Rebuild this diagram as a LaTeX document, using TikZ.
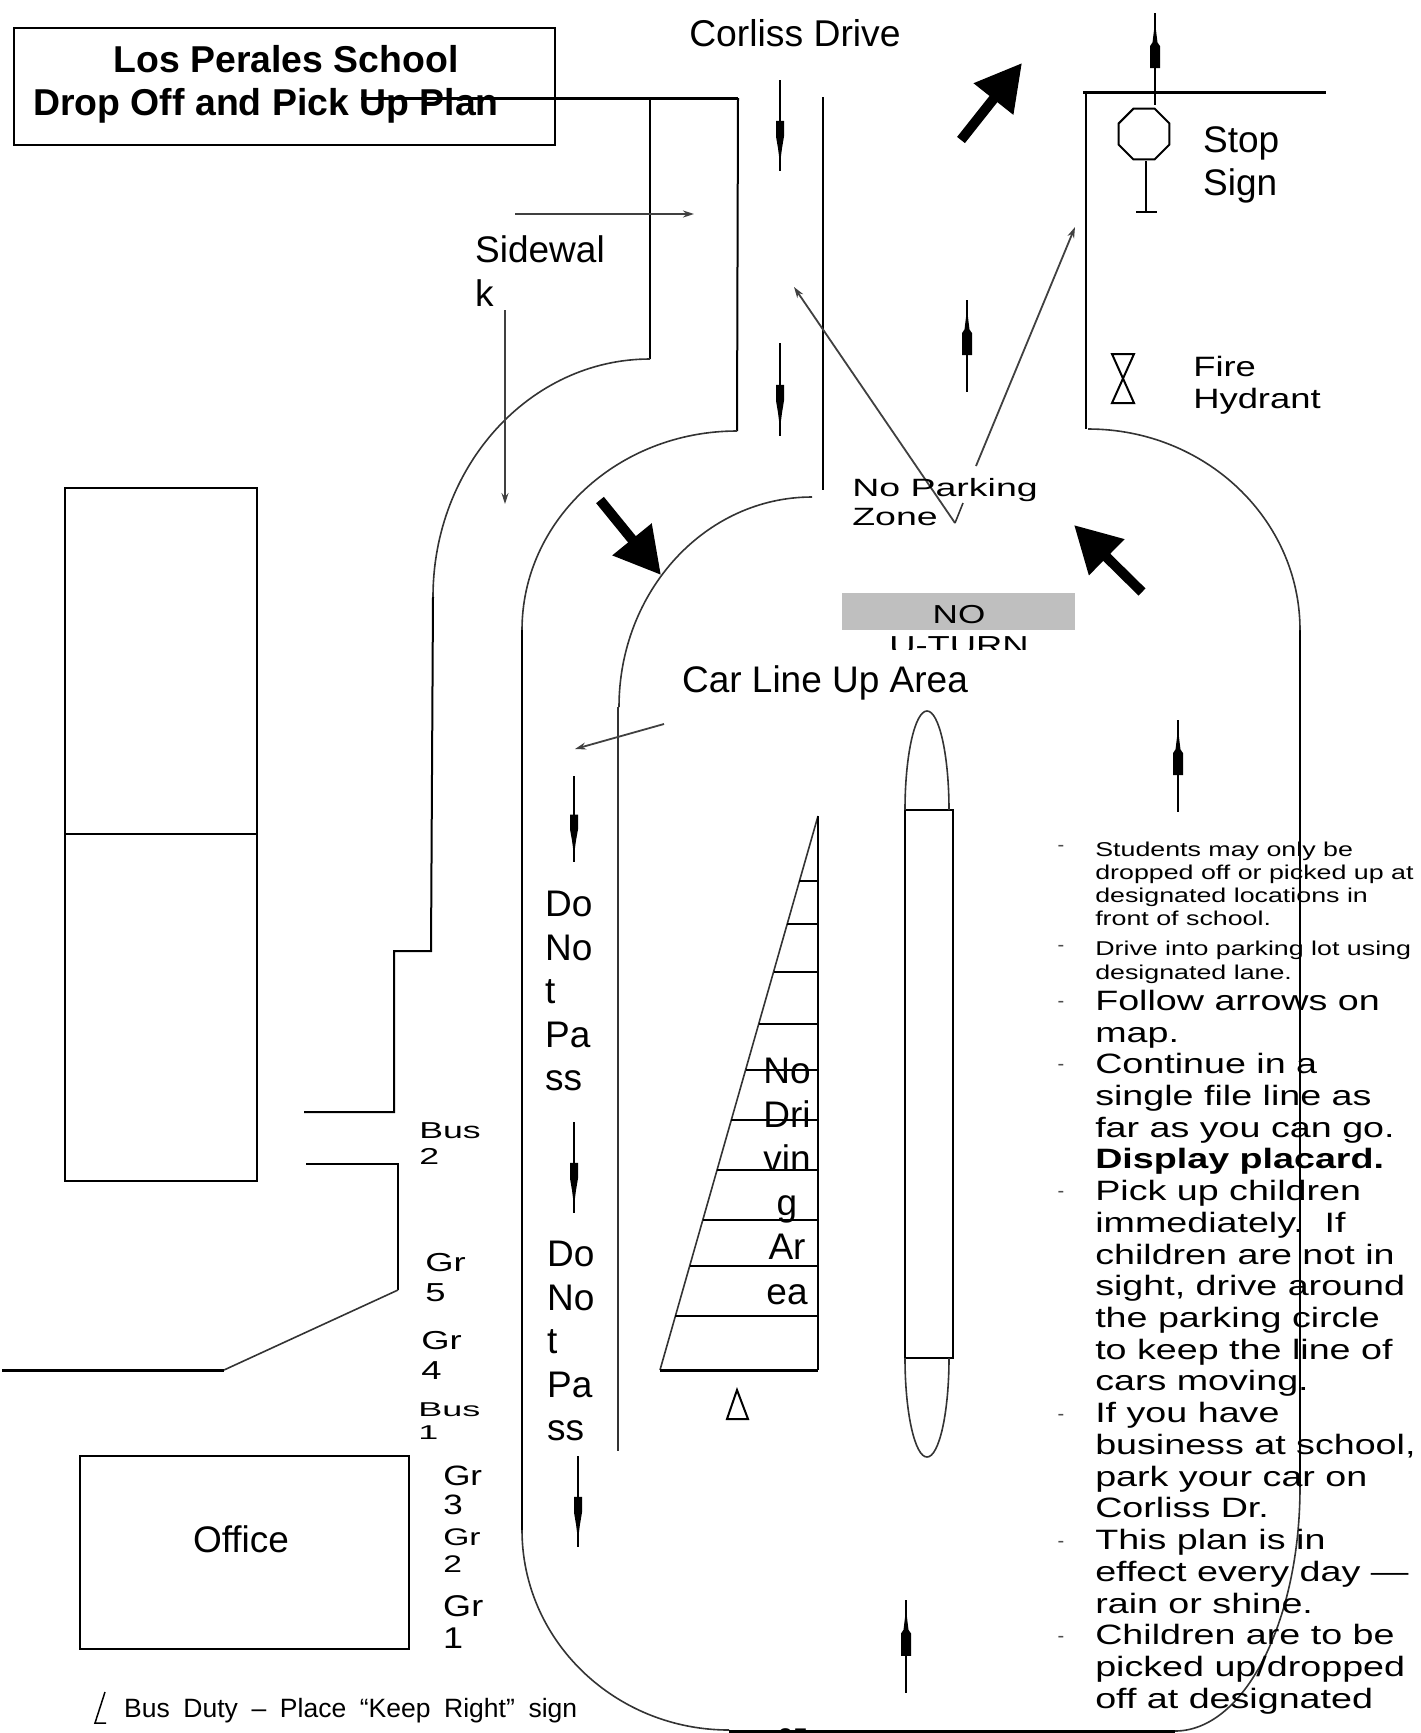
\documentclass[tikz,border=0pt]{standalone}
\usepackage{fontspec}
\setmainfont{Liberation Sans}
\usetikzlibrary{arrows.meta,shapes.geometric}
\tikzset{
  wall/.style={line width=2pt,black},
  curb/.style={line width=1.6pt,black!80},
  thinarrow/.style={line width=1.8pt,black!75,-{Stealth[length=11pt,width=7pt]}},
  bigarrow/.style={line width=10pt,black,-{Triangle[length=46pt,width=48pt]}},
  label/.style={inner sep=0pt,anchor=west,align=left,font=\fontsize{37}{43.5}\selectfont},
  bulletmark/.style={inner sep=0pt,font=\fontsize{20}{20}\selectfont,black!70}
}
\begin{document}
\begin{tikzpicture}[x=1pt,y=-1pt]
  \useasboundingbox (0,0) rectangle (1421,1733);

  % Title
  \draw[line width=2pt] (14,28) rectangle (555,145);
  \node[inner sep=0pt,font=\fontsize{37.4}{44.5}\selectfont\bfseries] (titleone) at (286,59) {Los Perales School};
  \node[inner sep=0pt,font=\fontsize{37.4}{44.5}\selectfont\bfseries] (titletwo) at (266,106) {Drop Off and Pick Up Plan};

  % Sidewalk and curbs, left of the road
  \draw[line width=3pt] (361,98) -- (738,98);
  \draw[wall] (650,100) -- (650,359);
  \draw[curb] (650,359) arc[start angle=90,end angle=180,x radius=217pt,y radius=238pt];
  \draw[wall] (433,597) -- (431,951) -- (394,951) -- (394,1112) -- (304,1112);
  \draw[wall] (306,1164) -- (398,1164) -- (398,1290);
  \draw[curb] (398,1290) -- (224,1370);
  \draw[line width=3pt] (224,1370) -- (2,1370);

  % Loop road
  \draw[wall] (738,98) -- (737,431);
  \draw[curb] (737,431) arc[start angle=90,end angle=180,x radius=215pt,y radius=199pt];
  \draw[wall] (522,630) -- (522,1530);
  \draw[curb] (522,1530) arc[start angle=180,end angle=270,x radius=207pt,y radius=200pt];
  \draw[line width=3pt] (729,1731) -- (1175,1731);
  \draw[curb] (1175,1731) arc[start angle=270,end angle=360,x radius=125pt,y radius=244pt];
  \draw[wall] (1300,1487) -- (1300,630);
  \draw[curb] (1300,630) arc[start angle=0,end angle=90,x radius=212pt,y radius=201pt];
  \draw[wall] (1086,429) -- (1086,94);
  \draw[line width=3pt] (1083,92) -- (1326,92);
  \draw[wall] (823,97) -- (823,490);
  \draw[curb] (812,497) arc[start angle=90,end angle=180,x radius=193pt,y radius=210pt];
  \draw[curb] (618,707) -- (618,1451);

  % Buildings
  \draw[line width=2pt] (65,488) rectangle (257,1181);
  \draw[line width=2pt] (65,834) -- (257,834);
  \draw[line width=2pt] (80,1456) rectangle (409,1649);
  \node[label,anchor=center] (office) at (241,1539) {Office};

  % Big arrows
  \draw[bigarrow] (961,140) -- (1022,63);
  \draw[bigarrow] (600,500) -- (661,575);
  \draw[bigarrow] (1142,592) -- (1074,525);

  % Thin arrows
  \draw[thinarrow,line width=2.5pt] (515,214) -- (694,214);
  \draw[thinarrow,line width=1.2pt] (505,310) -- (505,504);
  \draw[thinarrow] (976,466) -- (1075,227);
  \draw[thinarrow] (955,523) -- (794,287);
  \draw[curb] (955,523) -- (963,503);
  \draw[thinarrow] (664,724) -- (575,749);

  % Lane marks pointing down
  \foreach \x/\ya/\yb in {780/80/171,780/343/436,574/776/862,574/1122/1213,578/1456/1547}{
    \pgfmathsetmacro{\ylen}{\yb-\ya}
    \draw[line width=2pt] (\x,\ya) -- (\x,\yb);
    \fill (\x-4,\ya+0.45*\ylen) -- (\x+4,\ya+0.45*\ylen) -- (\x+4,\ya+0.62*\ylen) -- (\x+2,\ya+0.75*\ylen) -- (\x,\ya+0.92*\ylen) -- (\x-2,\ya+0.75*\ylen) -- (\x-4,\ya+0.62*\ylen) -- cycle;
  }
  % Lane marks pointing up
  \foreach \x/\ya/\yb in {1155/13/105,967/300/392,1178/720/812,906/1600/1693}{
    \pgfmathsetmacro{\ylen}{\yb-\ya}
    \draw[line width=2pt] (\x,\ya) -- (\x,\yb);
    \fill (\x,\ya+0.1*\ylen) -- (\x+2.5,\ya+0.32*\ylen) -- (\x+5,\ya+0.36*\ylen) -- (\x+5,\ya+0.6*\ylen) -- (\x-5,\ya+0.6*\ylen) -- (\x-5,\ya+0.36*\ylen) -- (\x-2.5,\ya+0.32*\ylen) -- cycle;
  }

  % Stop sign
  \node[regular polygon,regular polygon sides=8,draw,line width=2pt,minimum size=55pt,inner sep=0pt] (stopsign) at (1144,134) {};
  \draw[line width=2pt] (1146,161) -- (1146,212);
  \draw[line width=2pt] (1136,212) -- (1157,212);
  \node[label] (stoptext) at (1203,165) {Stop\\Sign};

  % Fire hydrant
  \draw[line width=2pt] (1112,354) -- (1134,354) -- (1112,403) -- (1134,403) -- cycle;
  \node[label,xscale=1.3,font=\fontsize{28}{32}\selectfont] (hydrant) at (1193,385) {Fire\\Hydrant};

  % Road texts
  \node[inner sep=0pt,font=\fontsize{37.3}{48}\selectfont] (corliss) at (795,33) {Corliss Drive};
  \node[label] (sidewalk) at (475,271) {Sidewal\\k};
  \node[label,xscale=1.5,font=\fontsize{25}{29}\selectfont] (noparking) at (852,502) {No Parking\\Zone};
  \node[label,anchor=center] (lineup) at (825,683) {Car Line Up Area};

  % No U-turn
  \fill[black!25] (842,593) rectangle (1075,630);
  \node[inner sep=0pt,xscale=1.35,font=\fontsize{26}{26}\selectfont] (noturn) at (959,615) {NO};
  \begin{scope}
    \clip (842,630) rectangle (1075,649);
    \node[inner sep=0pt,xscale=1.4,font=\fontsize{26}{26}\selectfont] (uturn) at (959,646) {U-TURN};
  \end{scope}

  % Do not pass
  \node[label] (passone) at (545,991) {Do\\No\\t\\Pa\\ss};
  \node[label] (passtwo) at (547,1341) {Do\\No\\t\\Pa\\ss};

  % No driving area
  \draw[curb] (818,816) -- (660,1370);
  \draw[wall] (818,816) -- (818,1370);
  \draw[line width=3pt] (660,1370) -- (818,1370);
  \foreach \y in {881,924,972,1024,1070,1120,1170,1220,1266,1316}{
    \pgfmathsetmacro{\xleft}{818-(\y-816)*0.2852}
    \draw[line width=2.5pt] (\xleft,\y) -- (818,\y);
  }
  \node[label,anchor=center,align=center,font=\fontsize{37}{44.2}\selectfont] (nodrive) at (787,1181) {No\\Dri\\vin\\g\\Ar\\ea};
  \draw[line width=2pt] (737,1390) -- (748,1419) -- (727,1419) -- cycle;

  % Median
  \draw[line width=2pt] (905,810) rectangle (953,1358);
  \draw[curb] (905,810) arc[start angle=180,end angle=0,x radius=22pt,y radius=99pt];
  \draw[curb] (905,1358) arc[start angle=180,end angle=360,x radius=22pt,y radius=99pt];

  % Pick up spots
  \node[label,xscale=1.55,font=\fontsize{23}{26}\selectfont] (bustwo) at (419,1144) {Bus\\2};
  \node[label,xscale=1.4,font=\fontsize{26}{30}\selectfont] (grfive) at (425,1278) {Gr\\5};
  \node[label,xscale=1.4,font=\fontsize{26}{30}\selectfont] (grfour) at (421,1355) {Gr\\4};
  \node[label,xscale=1.8,font=\fontsize{20}{23}\selectfont] (busone) at (418,1421) {Bus\\1};
  \node[label,xscale=1.25,font=\fontsize{28}{29}\selectfont] (grthree) at (443,1490) {Gr\\3};
  \node[label,xscale=1.4,font=\fontsize{24}{27}\selectfont] (grtwo) at (443,1551) {Gr\\2};
  \node[label,xscale=1.2,font=\fontsize{30}{32}\selectfont] (grone) at (443,1622) {Gr\\1};

  % Rules
  \foreach \y in {848,948,1004,1067,1194,1417,1544,1639}{
    \node[bulletmark] at (1061,\y) {-};
  }
  \node[label,xscale=1.34,font=\fontsize{20}{23.2}\selectfont] (rulesone) at (1095,884) {Students may only be\\dropped off or picked up at\\designated locations in\\front of school.};
  \node[label,xscale=1.34,font=\fontsize{20}{24}\selectfont] (rulestwo) at (1095,962) {Drive into parking lot using\\designated lane.};
  \node[label,xscale=1.345,font=\fontsize{28}{31.72}\selectfont] (rulesthree) at (1095,1352) {Follow arrows on\\map.\\Continue in a\\single file line as\\far as you can go.\\\textbf{Display placard.}\\Pick up children\\immediately.\ \ If\\children are not in\\sight, drive around\\the parking circle\\to keep the line of\\cars moving.\\If you have\\business at school,\\park your car on\\Corliss Dr.\\This plan is in\\effect every day ---\\rain or shine.\\Children are to be\\picked up/dropped\\off at designated};

  % Bus duty note
  \draw[line width=1.5pt] (105,1692) -- (95,1723) -- (106,1723);
  \node[inner sep=0pt,anchor=west,font=\fontsize{26.5}{27}\selectfont] (busduty) at (124,1711) {\hbox to 453pt{Bus\hfill Duty\hfill --\hfill Place\hfill “Keep\hfill Right”\hfill sign}};
  \node[inner sep=0pt,anchor=north,font=\fontsize{27}{27}\selectfont] (pagenumber) at (793,1728) {25};
\end{tikzpicture}
\end{document}
